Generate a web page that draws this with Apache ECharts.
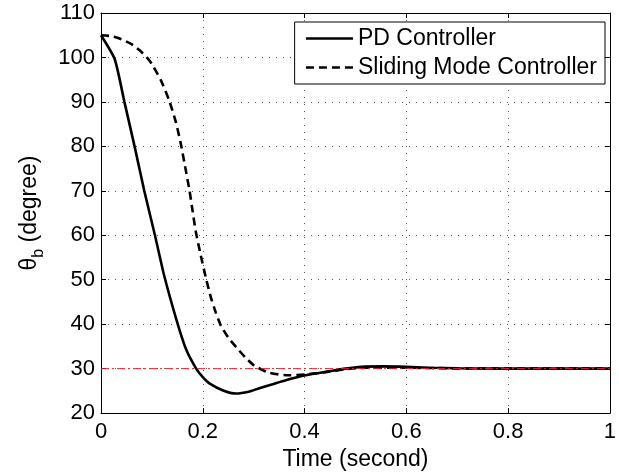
<!DOCTYPE html>
<html>
<head>
<meta charset="utf-8">
<script src="https://cdn.jsdelivr.net/npm/echarts@6/dist/echarts.min.js"></script>
<style>html,body{margin:0;padding:0;background:#fff;}#c{width:619px;height:476px;}</style>
</head>
<body>
<div id="c"></div>
<script>
// Time (s) samples and values
const pdTime = [0, 0.027, 0.046, 0.066, 0.085, 0.106, 0.124, 0.148, 0.167, 0.187, 0.2, 0.213, 0.24, 0.265, 0.29, 0.311, 0.337, 0.363, 0.402, 0.448, 0.48, 0.512, 0.55, 0.6, 0.643, 0.7, 0.8, 0.9, 1.0];
const pdValue = [105, 99.6, 90, 80, 70, 60, 51, 41.1, 34.4, 30, 28.1, 26.7, 25.1, 24.4, 24.8, 25.6, 26.5, 27.4, 28.5, 29.4, 30.0, 30.4, 30.5, 30.4, 30.2, 30.1, 30.0, 30.0, 30.0];
const smcTime = [0, 0.02, 0.04, 0.06, 0.076, 0.09, 0.1, 0.118, 0.134, 0.147, 0.157, 0.166, 0.174, 0.18, 0.186, 0.196, 0.207, 0.216, 0.226, 0.236, 0.25, 0.266, 0.283, 0.301, 0.33, 0.369, 0.402, 0.441, 0.48, 0.52, 0.6, 0.7, 0.8, 1.0];
const smcValue = [105, 104.8, 104.1, 103, 101.6, 100, 98.5, 94.8, 90.3, 85.5, 80.5, 75, 70, 65.5, 61, 55.5, 50, 46, 42.5, 39.6, 37, 34.8, 32.6, 30.7, 29.1, 28.5, 28.7, 29.2, 29.9, 30.2, 30.2, 30.05, 30, 30];
const refTime = [0, 1];
const refValue = [30, 30];
const seriesNames = ['PD Controller', 'Sliding Mode Controller'];
const xTicks = {min: 0, max: 1, interval: 0.2};
const yTicks = {min: 20, max: 110, interval: 10};

const zip = (a, b) => a.map((v, i) => [v, b[i]]);
const FONT = 'Liberation Sans, Arial, Helvetica, sans-serif';
const chart = echarts.init(document.getElementById('c'), null, {renderer: 'canvas'});

const gridLine = {show: true, lineStyle: {color: '#555', width: 1, type: [1, 6]}};
const axisLine = {show: true, onZero: false, lineStyle: {color: '#000', width: 1}};
const tick = {show: true, inside: true, length: 5, lineStyle: {color: '#000'}};

chart.setOption({
  animation: false,
  backgroundColor: '#fff',
  textStyle: {fontFamily: FONT},
  grid: {left: 101, right: 7, top: 13, bottom: 58, containLabel: false},
  legend: {
    orient: 'vertical', right: 14, top: 22,
    data: seriesNames,
    backgroundColor: '#fff', borderColor: '#000', borderWidth: 1, borderRadius: 0,
    padding: [5, 8, 5, 10], itemGap: 6, itemWidth: 47, itemHeight: 14,
    itemStyle: {opacity: 0},
    lineStyle: {width: 2.6},
    textStyle: {fontSize: 23, color: '#000', fontFamily: FONT}
  },
  xAxis: [{
    type: 'value', position: 'bottom', min: xTicks.min, max: xTicks.max, interval: xTicks.interval,
    name: 'Time (second)', nameLocation: 'middle', nameGap: 29,
    nameTextStyle: {fontSize: 23, color: '#000', fontFamily: FONT},
    axisLine: axisLine, axisTick: tick, splitLine: gridLine,
    axisLabel: {fontSize: 22, color: '#000', margin: 8, fontFamily: FONT, showMaxLabel: true, showMinLabel: true}
  }, {
    type: 'value', position: 'top', min: xTicks.min, max: xTicks.max, interval: xTicks.interval,
    axisLine: axisLine, axisTick: tick, splitLine: {show: false}, axisLabel: {show: false}
  }],
  yAxis: [{
    type: 'value', position: 'left', min: yTicks.min, max: yTicks.max, interval: yTicks.interval,
    name: '{t|θ}{s|b}{t| (degree)}', nameLocation: 'middle', nameGap: 54,
    nameTextStyle: {
      color: '#000', fontFamily: FONT,
      rich: {
        t: {fontSize: 23, color: '#000', fontFamily: FONT, lineHeight: 34, verticalAlign: 'middle'},
        s: {fontSize: 16, color: '#000', fontFamily: FONT, lineHeight: 34, verticalAlign: 'bottom', padding: [14, 0, 0, 0]}
      }
    },
    axisLine: axisLine, axisTick: tick, splitLine: gridLine,
    axisLabel: {fontSize: 22, color: '#000', margin: 6, fontFamily: FONT}
  }, {
    type: 'value', position: 'right', min: yTicks.min, max: yTicks.max, interval: yTicks.interval,
    axisLine: axisLine, axisTick: tick, splitLine: {show: false}, axisLabel: {show: false}
  }],
  series: [{
    name: seriesNames[0], type: 'line', data: zip(pdTime, pdValue), symbol: 'none', showSymbol: false,
    smooth: 0.2,
    lineStyle: {color: '#000', width: 2.6, type: 'solid'}, itemStyle: {color: '#000'}, z: 3
  }, {
    name: seriesNames[1], type: 'line', data: zip(smcTime, smcValue), symbol: 'none', showSymbol: false,
    smooth: 0.2,
    lineStyle: {color: '#000', width: 2.6, type: [8, 5]}, itemStyle: {color: '#000'}, z: 3
  }, {
    name: 'ref', type: 'line', data: zip(refTime, refValue), symbol: 'none', showSymbol: false,
    lineStyle: {color: '#e8202a', width: 1, type: [8, 3, 2, 3]}, itemStyle: {color: '#e8202a'}, z: 4
  }]
});
</script>
</body>
</html>
